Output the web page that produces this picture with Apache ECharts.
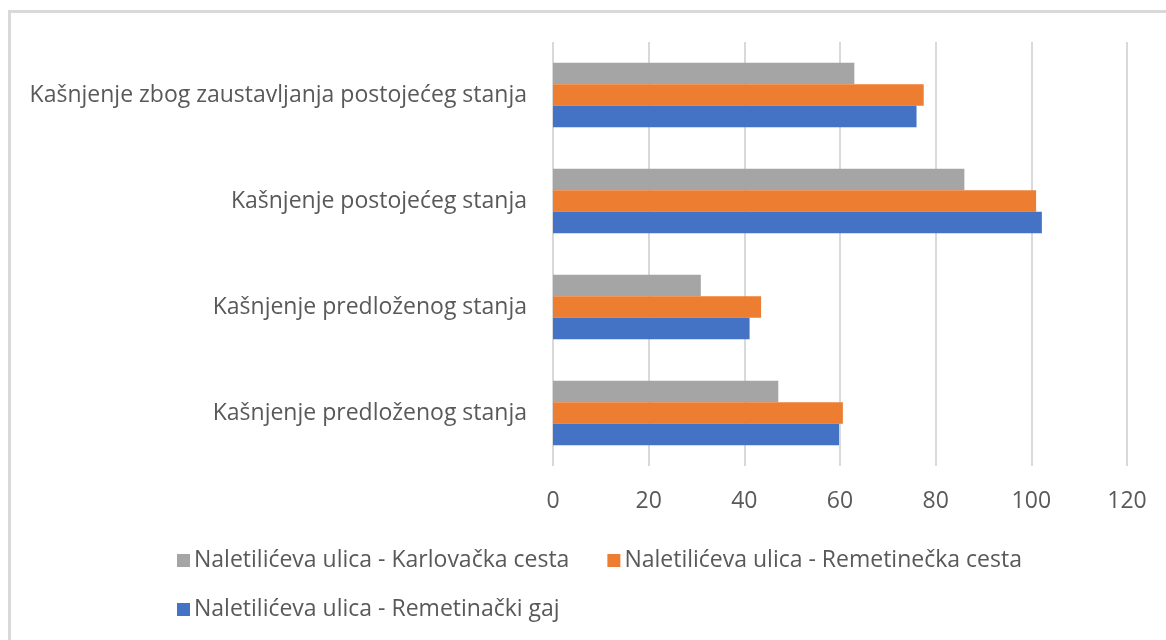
<!DOCTYPE html>
<html>
<head>
<meta charset="utf-8">
<script src="https://cdn.jsdelivr.net/npm/echarts@6/dist/echarts.min.js"></script>
<style>
html,body{margin:0;padding:0;background:#fff;overflow:hidden;}
#frame{position:absolute;left:8px;top:10px;width:1200px;height:700px;border:3px solid #d9d9d9;box-sizing:border-box;}
#chart{position:absolute;left:0;top:0;width:1166px;height:640px;}
</style>
</head>
<body>
<div id="frame"></div>
<div id="chart"></div>
<script>
// categories listed bottom to top
const categories = [
  'Kašnjenje predloženog stanja',
  'Kašnjenje predloženog stanja',
  'Kašnjenje postojećeg stanja',
  'Kašnjenje zbog zaustavljanja postojećeg stanja'
];
const seriesNames = [
  'Naletilićeva ulica - Karlovačka cesta',
  'Naletilićeva ulica - Remetinečka cesta',
  'Naletilićeva ulica - Remetinački gaj'
];
const karlovackaCesta = [47.1, 30.9, 86.0, 63.0];
const remetineckaCesta = [60.6, 43.5, 101.0, 77.5];
const remetinackiGaj = [59.8, 41.1, 102.2, 76.0];
const xTicks = [0, 20, 40, 60, 80, 100, 120];

const colors = ['#a5a5a5', '#ed7d31', '#4472c4'];
const values = [karlovackaCesta, remetineckaCesta, remetinackiGaj];
const FONT = 'Open Sans';
const chart = echarts.init(document.getElementById('chart'));
chart.setOption({
  animation: false,
  textStyle: {fontFamily: FONT},
  grid: {left: 553, right: 39, top: 42, bottom: 174, containLabel: false},
  xAxis: {
    type: 'value', min: xTicks[0], max: xTicks[xTicks.length - 1], interval: 20,
    axisLine: {show: false}, axisTick: {show: false},
    splitLine: {lineStyle: {color: '#d9d9d9', width: 2}},
    axisLabel: {color: '#595959', fontSize: 23, fontFamily: FONT, margin: 24}
  },
  yAxis: {
    type: 'category',
    data: categories.map((c, i) => ({value: c + '\u200b'.repeat(i)})),
    axisLine: {show: false}, axisTick: {show: false},
    axisLabel: {color: '#595959', fontSize: 23, fontFamily: FONT, margin: 26,
      formatter: v => v.replace(/\u200b/g, '')}
  },
  legend: [
    {
      data: [seriesNames[0], seriesNames[1]],
      left: 172, top: 544, itemWidth: 13, itemHeight: 13, itemGap: 38,
      icon: 'rect',
      textStyle: {color: '#595959', fontSize: 23, fontFamily: FONT, padding: [0,0,0,-1]}
    },
    {
      data: [seriesNames[2]],
      left: 172, top: 593, itemWidth: 13, itemHeight: 13, itemGap: 38,
      icon: 'rect',
      textStyle: {color: '#595959', fontSize: 23, fontFamily: FONT, padding: [0,0,0,-1]}
    }
  ],
  series: seriesNames.map((name, i) => ({
    name: name,
    type: 'bar',
    data: values[i],
    barGap: '0%',
    barCategoryGap: '39%',
    itemStyle: {color: colors[i]}
  }))
});
</script>
</body>
</html>
